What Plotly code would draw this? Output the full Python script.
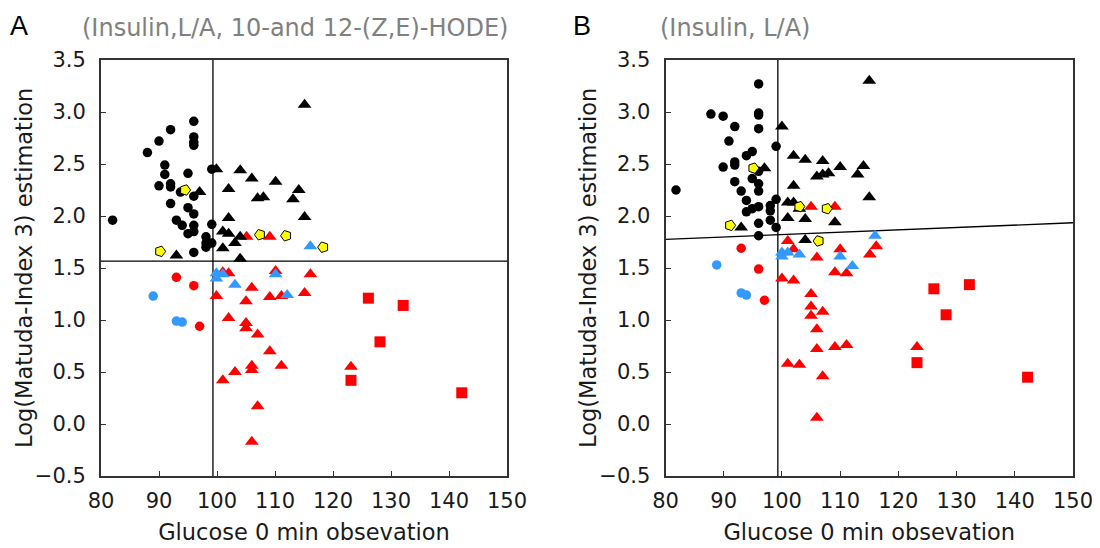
import plotly.graph_objects as go

# --- Panel A : (Insulin,L/A, 10-and 12-(Z,E)-HODE) ---
a_black_circ_x = [82, 88, 90, 92, 96, 96, 96, 96, 91, 91, 95, 99.1, 90, 92, 92, 92, 95, 96, 96, 93.7, 93, 94, 96, 95, 96, 98.1, 98.1, 98.1, 99.1, 99.1, 96]
a_black_circ_y = [1.96, 2.61, 2.72, 2.83, 2.91, 2.76, 2.71, 2.68, 2.49, 2.40, 2.41, 2.45, 2.29, 2.31, 2.28, 2.12, 2.08, 2.02, 2.19, 2.23, 1.96, 1.91, 1.91, 1.83, 1.85, 1.80, 1.74, 1.70, 1.74, 1.92, 1.65]
a_black_tri_x = [115.1, 99.9, 104, 106, 110.1, 114.1, 113.1, 97, 102, 107, 108, 102, 115.1, 101, 102, 104, 103.1, 101, 93, 104]
a_black_tri_y = [3.07, 2.45, 2.44, 2.36, 2.33, 2.25, 2.16, 2.23, 2.26, 2.17, 2.18, 1.98, 1.99, 1.85, 1.83, 1.80, 1.74, 1.69, 1.62, 1.59]
a_red_circ_x = [93, 96, 97]
a_red_circ_y = [1.41, 1.33, 0.94]
a_blue_circ_x = [89, 93, 94]
a_blue_circ_y = [1.23, 0.99, 0.98]
a_blue_tri_x = [99.9, 101, 99.9, 103.1, 110.1, 112.1, 116.1]
a_blue_tri_y = [1.45, 1.44, 1.40, 1.34, 1.44, 1.24, 1.71]
a_red_tri_x = [105.1, 109.1, 101, 102, 110.1, 116.1, 99.9, 106, 105, 109.1, 111.1, 115.1, 102, 105, 105, 107, 109.1, 111.1, 106, 106, 103.1, 101, 107, 106, 123.1]
a_red_tri_y = [1.80, 1.80, 1.46, 1.45, 1.47, 1.44, 1.23, 1.31, 1.18, 1.22, 1.23, 1.26, 1.02, 0.97, 0.92, 0.86, 0.70, 0.56, 0.56, 0.52, 0.50, 0.42, 0.17, -0.17, 0.55]
a_red_sq_x = [126.1, 132.1, 128.1, 123.1, 142.2]
a_red_sq_y = [1.21, 1.14, 0.79, 0.42, 0.30]
a_arrow_r_x = [94.5, 90.2]
a_arrow_r_y = [2.25, 1.66]
a_arrow_l_x = [107.4, 111.9, 118.3]
a_arrow_l_y = [1.82, 1.81, 1.70]
a_vline_x = 99.3
a_hline_y = 1.567

# --- Panel B : (Insulin, L/A) ---
b_black_circ_x = [81.8, 96, 87.8, 89.9, 91.9, 96, 96, 96, 90.9, 99, 94.9, 93.9, 91.9, 91.9, 89.9, 96, 91.9, 94.9, 96, 93, 96, 93.9, 99, 96, 94.9, 93.9, 98, 98, 98, 99, 96, 96]
b_black_circ_y = [2.25, 3.27, 2.98, 2.96, 2.86, 2.99, 2.97, 2.84, 2.72, 2.67, 2.62, 2.58, 2.52, 2.49, 2.47, 2.43, 2.33, 2.36, 2.31, 2.24, 2.24, 2.15, 2.16, 2.09, 2.07, 2.04, 2.10, 2.05, 1.96, 1.89, 1.93, 1.81]
b_black_tri_x = [100, 102, 104, 107, 110, 97, 106, 107, 108, 113, 114, 115, 115, 102, 101, 102, 103, 101, 104, 109.1, 93, 104]
b_black_tri_y = [2.86, 2.58, 2.54, 2.53, 2.47, 2.46, 2.38, 2.40, 2.41, 2.40, 2.48, 3.30, 2.18, 2.29, 2.13, 2.13, 2.07, 1.98, 1.97, 1.94, 1.89, 1.77]
b_red_circ_x = [93, 96, 97]
b_red_circ_y = [1.69, 1.49, 1.19]
b_blue_circ_x = [88.8, 93, 93.9]
b_blue_circ_y = [1.53, 1.26, 1.24]
b_blue_tri_x = [100, 101, 103, 100, 110, 112.1, 116]
b_blue_tri_y = [1.65, 1.65, 1.63, 1.61, 1.61, 1.52, 1.81]
b_red_tri_x = [105, 109.1, 101, 102, 106, 110, 109.1, 111.1, 116.2, 115.1, 100, 102, 105, 105, 105, 107, 106, 106, 109.1, 111.1, 101, 103, 107, 106, 123.2]
b_red_tri_y = [2.09, 2.09, 1.76, 1.68, 1.60, 1.68, 1.46, 1.45, 1.71, 1.63, 1.40, 1.38, 1.25, 1.13, 1.04, 1.08, 0.91, 0.72, 0.74, 0.76, 0.58, 0.57, 0.46, 0.06, 0.74]
b_red_sq_x = [126.1, 132.2, 128.2, 123.2, 142.2]
b_red_sq_y = [1.30, 1.34, 1.05, 0.59, 0.45]
b_arrow_r_x = [95.1, 103, 107.7, 91.1]
b_arrow_r_y = [2.46, 2.09, 2.07, 1.91]
b_arrow_l_x = [106.3]
b_arrow_l_y = [1.76]
b_vline_x = 99.3
b_line_x = [80, 150]
b_line_y = [1.775, 1.935]

RED = '#FF0000'
BLUE = '#3399FF'
BLACK = '#000000'
YELLOW = '#FFFF00'

fig = go.Figure()


def add_points(x, y, symbol, color, size, xa, ya, angle=0, line_w=0):
    fig.add_trace(go.Scatter(
        x=x, y=y, mode='markers', xaxis=xa, yaxis=ya, showlegend=False,
        marker=dict(symbol=symbol, color=color, size=size, angle=angle,
                    line=dict(color='black', width=line_w))
    ))


def add_line(x, y, xa, ya):
    fig.add_trace(go.Scatter(
        x=x, y=y, mode='lines', xaxis=xa, yaxis=ya, showlegend=False,
        line=dict(color='black', width=1.3)
    ))


# panel A
add_line([a_vline_x, a_vline_x], [-0.5, 3.5], 'x', 'y')
add_line([80, 150], [a_hline_y, a_hline_y], 'x', 'y')
add_points(a_red_tri_x, a_red_tri_y, 'triangle-up', RED, 12, 'x', 'y')
add_points(a_red_sq_x, a_red_sq_y, 'square', RED, 11, 'x', 'y')
add_points(a_red_circ_x, a_red_circ_y, 'circle', RED, 9.5, 'x', 'y')
add_points(a_blue_tri_x, a_blue_tri_y, 'triangle-up', BLUE, 12, 'x', 'y')
add_points(a_blue_circ_x, a_blue_circ_y, 'circle', BLUE, 9.5, 'x', 'y')
add_points(a_black_circ_x, a_black_circ_y, 'circle', BLACK, 9.5, 'x', 'y')
add_points(a_black_tri_x, a_black_tri_y, 'triangle-up', BLACK, 12, 'x', 'y')
add_points(a_arrow_r_x, a_arrow_r_y, 'pentagon', YELLOW, 11, 'x', 'y', angle=90, line_w=1)
add_points(a_arrow_l_x, a_arrow_l_y, 'pentagon', YELLOW, 11, 'x', 'y', angle=-90, line_w=1)

# panel B
add_line([b_vline_x, b_vline_x], [-0.5, 3.5], 'x2', 'y2')
add_line(b_line_x, b_line_y, 'x2', 'y2')
add_points(b_red_tri_x, b_red_tri_y, 'triangle-up', RED, 12, 'x2', 'y2')
add_points(b_red_sq_x, b_red_sq_y, 'square', RED, 11, 'x2', 'y2')
add_points(b_red_circ_x, b_red_circ_y, 'circle', RED, 9.5, 'x2', 'y2')
add_points(b_blue_tri_x, b_blue_tri_y, 'triangle-up', BLUE, 12, 'x2', 'y2')
add_points(b_blue_circ_x, b_blue_circ_y, 'circle', BLUE, 9.5, 'x2', 'y2')
add_points(b_black_circ_x, b_black_circ_y, 'circle', BLACK, 9.5, 'x2', 'y2')
add_points(b_black_tri_x, b_black_tri_y, 'triangle-up', BLACK, 12, 'x2', 'y2')
add_points(b_arrow_r_x, b_arrow_r_y, 'pentagon', YELLOW, 11, 'x2', 'y2', angle=90, line_w=1)
add_points(b_arrow_l_x, b_arrow_l_y, 'pentagon', YELLOW, 11, 'x2', 'y2', angle=-90, line_w=1)

FONT = 'DejaVu Sans, Verdana, sans-serif'

xaxis_style = dict(
    range=[80, 150], tickvals=[80, 90, 100, 110, 120, 130, 140, 150],
    showgrid=False, zeroline=False, showline=True, mirror=True, automargin=False,
    linecolor='#333333', linewidth=2, ticks='inside', ticklen=5, tickcolor='#333333',
    ticklabelstandoff=5, ticklabeloverflow='allow',
    tickfont=dict(size=21, color='#1a1a1a', family=FONT),
    title=dict(text='Glucose 0 min obsevation', font=dict(size=22.5, color='#1a1a1a', family=FONT), standoff=12),
)
yaxis_style = dict(
    range=[-0.5, 3.5], tickvals=[-0.5, 0, 0.5, 1, 1.5, 2, 2.5, 3, 3.5], tickformat='.1f',
    showgrid=False, zeroline=False, showline=True, mirror=True, automargin=False,
    linecolor='#333333', linewidth=2, ticks='inside', ticklen=5, tickcolor='#333333',
    ticklabelstandoff=9, ticklabeloverflow='allow',
    tickfont=dict(size=21, color='#1a1a1a', family=FONT),
    domain=[0, 1],
)

# the page puts the plot div 8 px in from the top-left corner, so work in page pixels
OFF = 8
FW, FH = 1100 - OFF, 548 - OFF
# plot area in page pixels: 101..1073 horizontally, 60..476 vertically
L, T, W, H = 101 - OFF, 60 - OFF, 972, 416


def px(x):
    return (x - OFF - L) / W


def py(y):
    return (T + H - (y - OFF)) / H


YTITLE = 'Log(Matuda-Index 3) estimation'
ytitle_font = dict(size=22.5, color='#1a1a1a', family=FONT)
panel_font = dict(size=27, color='black', family='Liberation Sans, Arial')
sub_font = dict(size=24, color='#808080', family=FONT)

fig.update_layout(
    width=FW, height=FH,
    margin=dict(l=L, r=FW - L - W, t=T, b=FH - T - H, autoexpand=False),
    plot_bgcolor='white', paper_bgcolor='white',
    xaxis=dict(xaxis_style, domain=[0, px(507)], anchor='y'),
    yaxis=dict(yaxis_style, anchor='x'),
    xaxis2=dict(xaxis_style, domain=[px(665.5), 1], anchor='y2'),
    yaxis2=dict(yaxis_style, anchor='x2'),
    annotations=[
        dict(text='A', x=px(19), y=py(9), xref='paper', yref='paper', showarrow=False,
             xanchor='center', yanchor='top', font=panel_font),
        dict(text='(Insulin,L/A, 10-and 12-(Z,E)-HODE)', x=px(80), y=py(28), xref='paper', yref='paper',
             showarrow=False, xanchor='left', yanchor='middle', font=sub_font),
        dict(text='B', x=px(582), y=py(9), xref='paper', yref='paper', showarrow=False,
             xanchor='center', yanchor='top', font=panel_font),
        dict(text='(Insulin, L/A)', x=px(658), y=py(28), xref='paper', yref='paper',
             showarrow=False, xanchor='left', yanchor='middle', font=sub_font),
        dict(text=YTITLE, x=px(24), y=py(268), xref='paper', yref='paper', showarrow=False,
             textangle=-90, xanchor='center', yanchor='middle', font=ytitle_font),
        dict(text=YTITLE, x=px(588), y=py(268), xref='paper', yref='paper', showarrow=False,
             textangle=-90, xanchor='center', yanchor='middle', font=ytitle_font),
    ],
)

fig.write_html("out.html")
